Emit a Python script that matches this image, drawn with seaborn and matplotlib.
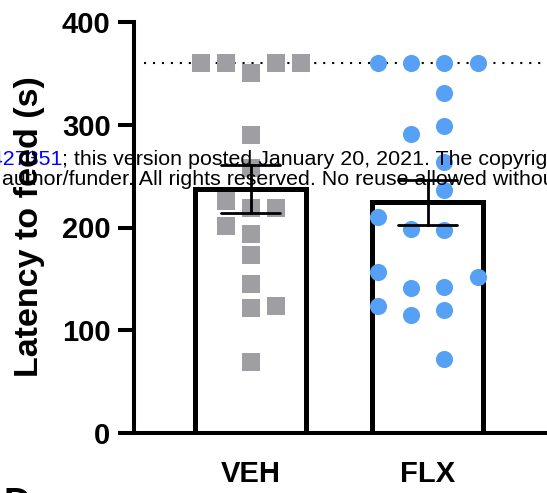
import numpy as np
import pandas as pd
import matplotlib
matplotlib.use("Agg")
import matplotlib.pyplot as plt
import seaborn as sns

# ---------------- data ----------------
groups = ["VEH", "FLX"]
veh_latency = [350, 290, 258, 219, 194, 173, 122, 69, 360, 360, 360, 360, 219, 226, 201, 124, 145]
flx_latency = [331, 299, 264, 236, 198, 142, 120, 360, 360, 360, 360, 291, 199, 210, 141, 157, 152, 115, 124, 72]
cutoff = 360
y_ticks = [0, 100, 200, 300, 400]
y_label = "Latency to feed (s)"
wm_blue = "bioRxiv preprint doi: https://doi.org/10.1101/2021.01.19.427351"
wm_line1 = "; this version posted January 20, 2021. The copyright holder for this preprint"
wm_line2_pre = "(which was not certified by peer review) is the "
wm_line2 = "author/funder. All rights reserved. No reuse allowed without permission."

# ---------------- style ----------------
W, H, DPI = 547, 493, 100
sns.set_style("ticks")
plt.rcParams["font.family"] = ["Liberation Sans", "DejaVu Sans"]
plt.rcParams["font.weight"] = "bold"
for k in ["axes.edgecolor", "xtick.color", "ytick.color", "text.color",
          "axes.labelcolor", "xtick.labelcolor", "ytick.labelcolor"]:
    plt.rcParams[k] = "black"

gray = "#9f9fa3"
blue = "#56a1f6"


def column_layout(values, ncols, spread=0.565, d=20):
    """Prism-like column scatter: points placed in data order into the
    free column nearest the centre."""
    cols = np.arange(ncols) - (ncols - 1) / 2
    rings = sorted(set(abs(c) for c in cols))
    pref = []
    k = 0
    for r in rings:
        if r == 0:
            pref.append(0.0)
            continue
        pref += [r, -r] if k % 2 == 0 else [-r, r]
        k += 1
    step = spread / (ncols - 1)
    placed, offs = [], []
    for v in values:
        chosen = pref[-1]
        for c in pref:
            if all(not (pc == c and abs(pv - v) < d) for pc, pv in placed):
                chosen = c
                break
        placed.append((chosen, v))
        offs.append(chosen * step)
    return np.array(offs)


df = pd.DataFrame({
    "group": ["VEH"] * len(veh_latency) + ["FLX"] * len(flx_latency),
    "latency": veh_latency + flx_latency,
})

fig = plt.figure(figsize=(W / DPI, H / DPI), dpi=DPI)
left_px, bottom_px, top_px = 133.5, 433.3, 21.7
ax = fig.add_axes([left_px / W, 1 - bottom_px / H, 1 - left_px / W, (bottom_px - top_px) / H])

sns.barplot(data=df, x="group", y="latency", order=groups, errorbar="se",
            capsize=0.33, color="white", edgecolor="black", linewidth=3.6,
            width=0.63, saturation=1, err_kws={"color": "black", "linewidth": 2.0},
            ax=ax)

veh_x = 0 + column_layout(veh_latency, 5)
flx_x = 1 + column_layout(flx_latency, 4)
sns.scatterplot(x=veh_x, y=veh_latency, marker="s", s=161, color=gray,
                linewidth=0, ax=ax, legend=False)
sns.scatterplot(x=flx_x, y=flx_latency, marker="o", s=152, color=blue,
                linewidth=0, ax=ax, legend=False)

ax.hlines(cutoff, -0.60, 1.7, colors="black", linewidth=1.5,
          linestyles=(0, (1, 3.3)), zorder=0.5)

ax.set_xlim(-0.661, 1.674)
ax.set_ylim(0, 400)
ax.set_yticks(y_ticks)
ax.set_xticks([0, 1])
ax.set_xticklabels(groups)
ax.set_xlabel("")
ax.set_ylabel("")
sns.despine(ax=ax, top=True, right=True)
for s in ["left", "bottom"]:
    ax.spines[s].set_linewidth(2.9)
    ax.spines[s].set_color("black")
    ax.spines[s].set_capstyle("projecting")
ax.tick_params(axis="y", length=11.5, width=2.9, pad=5, labelsize=21, colors="black")
ax.tick_params(axis="x", length=0, pad=19.5, labelsize=21, colors="black")
for lab in ax.get_xticklabels() + ax.get_yticklabels():
    lab.set_fontweight("bold")

fig.text(29.5 / W, 1 - 227 / H, y_label, rotation=90, ha="center", va="center",
         fontsize=24.5, fontweight="bold", color="black", zorder=5)

# watermark
wm_kw = dict(fontsize=15.4, fontweight="normal", va="baseline", zorder=4)
fig.text(62 / W, 1 - 165.5 / H, wm_blue, ha="right", color="blue", **wm_kw)
fig.text(62 / W, 1 - 165.5 / H, wm_line1, ha="left", color="black", **wm_kw)
fig.text(2 / W, 1 - 185 / H, wm_line2_pre, ha="right", color="black", **wm_kw)
fig.text(2 / W, 1 - 185 / H, wm_line2, ha="left", color="black", **wm_kw)

# panel letter (cut by figure edge)
fig.text(4 / W, 1 - 515 / H, "D", fontsize=27, fontweight="bold", va="baseline",
         color="black")

fig.savefig("out.png", dpi=DPI)
